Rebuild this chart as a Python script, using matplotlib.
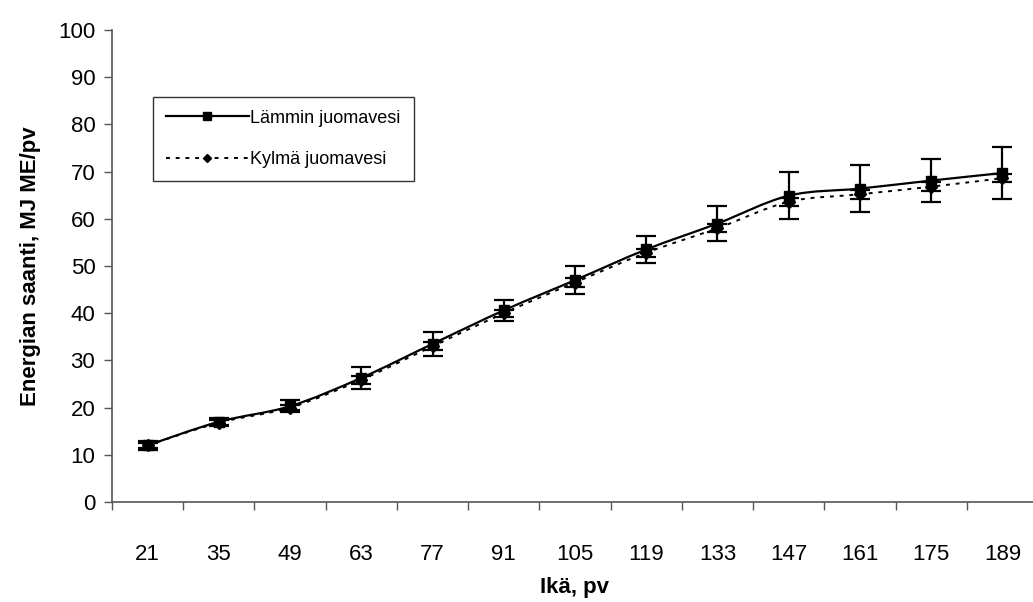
import matplotlib.pyplot as plt
import numpy as np
from matplotlib.path import Path
from matplotlib.patches import PathPatch
from matplotlib.lines import Line2D

plt.rcParams['font.family'] = ['Liberation Sans', 'DejaVu Sans']

#--------------------------------------------------------------------
# DATA
#--------------------------------------------------------------------
AGE_DAYS = [21, 35, 49, 63, 77, 91, 105, 119, 133, 147, 161, 175, 189]
WARM = [12.0, 17.0, 20.3, 26.3, 33.5, 40.6, 47.0, 53.5, 59.0, 64.9, 66.4, 68.1, 69.7]
WARM_ERR = [1.0, 0.8, 1.3, 2.3, 2.5, 2.3, 3.0, 2.8, 3.8, 5.0, 5.0, 4.5, 5.6]
COLD = [12.0, 16.8, 20.0, 25.9, 33.0, 40.0, 46.5, 52.8, 58.0, 63.6, 65.2, 66.8, 68.6]
COLD_ERR = [0.6, 0.5, 0.6, 0.8, 0.8, 0.7, 0.9, 0.8, 0.9, 0.9, 0.9, 0.9, 0.9]
LABELS = ["Lämmin juomavesi", "Kylmä juomavesi"]


def smooth_path(xs, ys):
    # Excel-like smoothed line as cubic bezier segments
    pts = np.column_stack([xs, ys]).astype(float)
    n = len(pts)
    verts = [pts[0]]
    codes = [Path.MOVETO]
    for i in range(n - 1):
        p0 = pts[i - 1] if i > 0 else pts[i]
        p1 = pts[i]
        p2 = pts[i + 1]
        p3 = pts[i + 2] if i + 2 < n else pts[i + 1]
        c1 = p1 + (p2 - p0) / 6.0
        c2 = p2 - (p3 - p1) / 6.0
        verts += [c1, c2, p2]
        codes += [Path.CURVE4] * 3
    return Path(verts, codes)


fig = plt.figure(figsize=(10.33, 6.02), dpi=100)
ax = fig.add_axes([112 / 1033, 1 - 502 / 602, 926 / 1033, 472 / 602])

x = np.arange(len(AGE_DAYS))

ax.add_patch(PathPatch(smooth_path(x, COLD), fill=False, edgecolor="black",
                       lw=1.4, linestyle=(0, (2, 3)), zorder=3))
ax.add_patch(PathPatch(smooth_path(x, WARM), fill=False, edgecolor="black",
                       lw=1.6, zorder=4))

ax.errorbar(x, COLD, yerr=COLD_ERR, fmt="D", color="black", ms=6,
            capsize=7.5, elinewidth=1.6, capthick=1.6, zorder=5)
ax.errorbar(x, WARM, yerr=WARM_ERR, fmt="s", color="black", ms=6.5,
            capsize=7.5, elinewidth=1.6, capthick=1.6, zorder=6)

ax.set_xlim(-0.5, len(AGE_DAYS) - 0.5)
ax.set_ylim(0, 100)
ax.set_yticks(range(0, 101, 10))
ax.set_xticks(np.arange(len(AGE_DAYS) + 1) - 0.5)
ax.set_xticklabels([])
ax.set_xticks(x, minor=True)
ax.set_xticklabels([str(a) for a in AGE_DAYS], minor=True)
ax.tick_params(axis="x", which="major", direction="out", length=6, width=1, color="#555555")
ax.tick_params(axis="x", which="minor", length=0, pad=30, labelsize=16)
ax.tick_params(axis="y", direction="out", length=6, width=1, color="#555555", labelsize=16, pad=6)

for side in ["top", "right"]:
    ax.spines[side].set_visible(False)
for side in ["left", "bottom"]:
    ax.spines[side].set_color("#555555")
    ax.spines[side].set_linewidth(1.2)

ax.set_xlabel("Ikä, pv", fontsize=16, fontweight="bold", labelpad=9)
ax.set_ylabel("Energian saanti, MJ ME/pv", fontsize=16, fontweight="bold", labelpad=12)

handles = [
    Line2D([], [], color="black", lw=1.6, marker="s", ms=6),
    Line2D([], [], color="black", lw=1.4, linestyle=(0, (2, 3)), marker="D", ms=4.5),
]
leg = ax.legend(handles, LABELS, loc="upper left",
                bbox_to_anchor=(153 / 1033, 1 - 97 / 602), bbox_transform=fig.transFigure,
                fontsize=13, frameon=True, fancybox=False, handlelength=4.6,
                handletextpad=0.1, borderaxespad=0, borderpad=0.7, labelspacing=1.35)
leg.get_frame().set_edgecolor("black")
leg.get_frame().set_linewidth(1.0)

fig.savefig("out.png", dpi=100)
